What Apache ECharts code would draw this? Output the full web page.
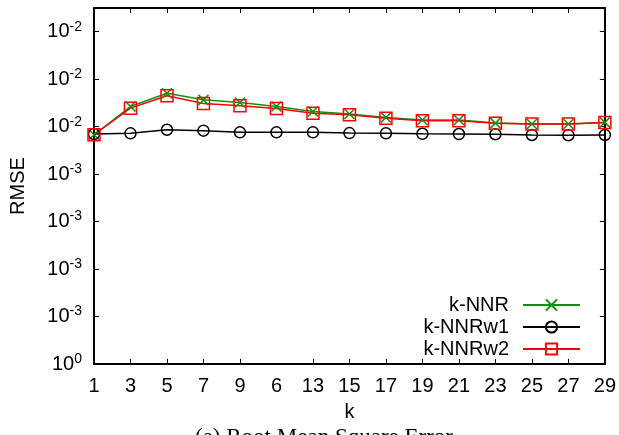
<!DOCTYPE html>
<html style="height: 100%">
<head>
<meta charset="utf-8">
<script src="https://cdn.jsdelivr.net/npm/echarts@6/dist/echarts.min.js"></script>
</head>
<body style="height: 100%; margin: 0; background: #fff">
<div id="container" style="width: 619px; height: 435px"></div>
<script type="text/javascript">
// k values (as printed on the x axis; the 11th-k label reads "6" in the original)
var kLabels = ['1', '3', '5', '7', '9', '6', '13', '15', '17', '19', '21', '23', '25', '27', '29'];
var knnr   = [0.00966, 0.01085, 0.01141, 0.01113, 0.01102, 0.01085, 0.01064, 0.01053, 0.01039, 0.01028, 0.01028, 0.01015, 0.01011, 0.01011, 0.01018];
var knnrw1 = [0.00969, 0.00972, 0.00987, 0.00983, 0.00976, 0.00976, 0.00976, 0.00973, 0.00972, 0.00970, 0.00969, 0.00968, 0.00965, 0.00964, 0.00965];
var knnrw2 = [0.00966, 0.01078, 0.01130, 0.01098, 0.01088, 0.01077, 0.01057, 0.01050, 0.01035, 0.01025, 0.01025, 0.01014, 0.01011, 0.01011, 0.01018];

var font = 'Liberation Sans, Arial, sans-serif';
var green = '#109010';

var myChart = echarts.init(document.getElementById('container'));

function yFmt(v) {
    if (v > 0.0145) return '';
    if (v === 0) return '{b|10}{s|0}';
    var e = Math.floor(Math.log10(v) + 1e-9);
    return '{b|10}{s|' + e + '}';
}
function tickShow(i) { return i !== 5; }

var tickStyle = {show: true, inside: true, length: 5, lineStyle: {color: '#000', width: 1}};
var lineAxis = {show: true, onZero: false, lineStyle: {color: '#000', width: 2}};

var option = {
    animation: false,
    grid: {left: 92, right: 14, top: 8, bottom: 71, containLabel: false},
    xAxis: [{
        type: 'category',
        data: kLabels,
        boundaryGap: false,
        name: 'k',
        nameLocation: 'middle',
        nameGap: 38,
        nameTextStyle: {fontSize: 20, fontFamily: font, color: '#000'},
        axisLine: lineAxis,
        axisTick: {show: true, inside: true, length: 5, interval: tickShow, lineStyle: {color: '#000', width: 1}},
        axisLabel: {interval: 0, margin: 12, fontSize: 20, fontFamily: font, color: '#000'},
        splitLine: {show: false}
    }, {
        type: 'category',
        data: kLabels,
        boundaryGap: false,
        position: 'top',
        axisLine: lineAxis,
        axisTick: {show: true, inside: true, length: 5, interval: tickShow, lineStyle: {color: '#000', width: 1}},
        axisLabel: {show: false},
        splitLine: {show: false}
    }],
    yAxis: [{
        type: 'value',
        min: 0,
        max: 0.015,
        interval: 0.002,
        name: 'RMSE',
        nameLocation: 'middle',
        nameGap: 66,
        nameTextStyle: {fontSize: 20, fontFamily: font, color: '#000'},
        axisLine: lineAxis,
        axisTick: tickStyle,
        axisLabel: {
            margin: 12,
            formatter: yFmt,
            rich: {
                b: {fontSize: 20, fontFamily: font, color: '#000', lineHeight: 24},
                s: {fontSize: 14, fontFamily: font, color: '#000', lineHeight: 14, verticalAlign: 'top'}
            }
        },
        splitLine: {show: false}
    }, {
        type: 'value',
        min: 0,
        max: 0.015,
        interval: 0.002,
        position: 'right',
        axisLine: lineAxis,
        axisTick: tickStyle,
        axisLabel: {show: false},
        splitLine: {show: false}
    }],
    legend: {
        orient: 'vertical',
        right: 33,
        top: 290,
        align: 'right',
        itemWidth: 57,
        itemHeight: 14,
        itemGap: 2,
        selectedMode: false,
        textStyle: {fontSize: 20, fontFamily: font, color: '#000', lineHeight: 20, padding: [0, 9, 0, 0]},
        data: ['k-NNR', 'k-NNRw1', 'k-NNRw2']
    },
    series: [{
        name: 'k-NNR',
        type: 'line',
        data: knnr,
        symbol: 'path://M0,0L10,10M10,0L0,10',
        symbolSize: 10,
        lineStyle: {color: green, width: 1.5},
        itemStyle: {color: 'transparent', borderColor: green, borderWidth: 1.5},
        emphasis: {disabled: true}
    }, {
        name: 'k-NNRw1',
        type: 'line',
        data: knnrw1,
        symbol: 'circle',
        symbolSize: 11,
        lineStyle: {color: '#000', width: 1.5},
        itemStyle: {color: 'transparent', borderColor: '#000', borderWidth: 1.5},
        emphasis: {disabled: true}
    }, {
        name: 'k-NNRw2',
        type: 'line',
        data: knnrw2,
        symbol: 'rect',
        symbolSize: 12,
        lineStyle: {color: '#ff0000', width: 1.5},
        itemStyle: {color: 'transparent', borderColor: '#ff0000', borderWidth: 1.5},
        emphasis: {disabled: true}
    }],
    graphic: [{
        type: 'text',
        left: 195,
        top: 426,
        style: {
            text: '(a) Root Mean Square Error',
            fontSize: 23,
            fontFamily: 'Liberation Serif, Times New Roman, serif',
            fill: '#000'
        }
    }]
};
myChart.setOption(option);
</script>
</body>
</html>
